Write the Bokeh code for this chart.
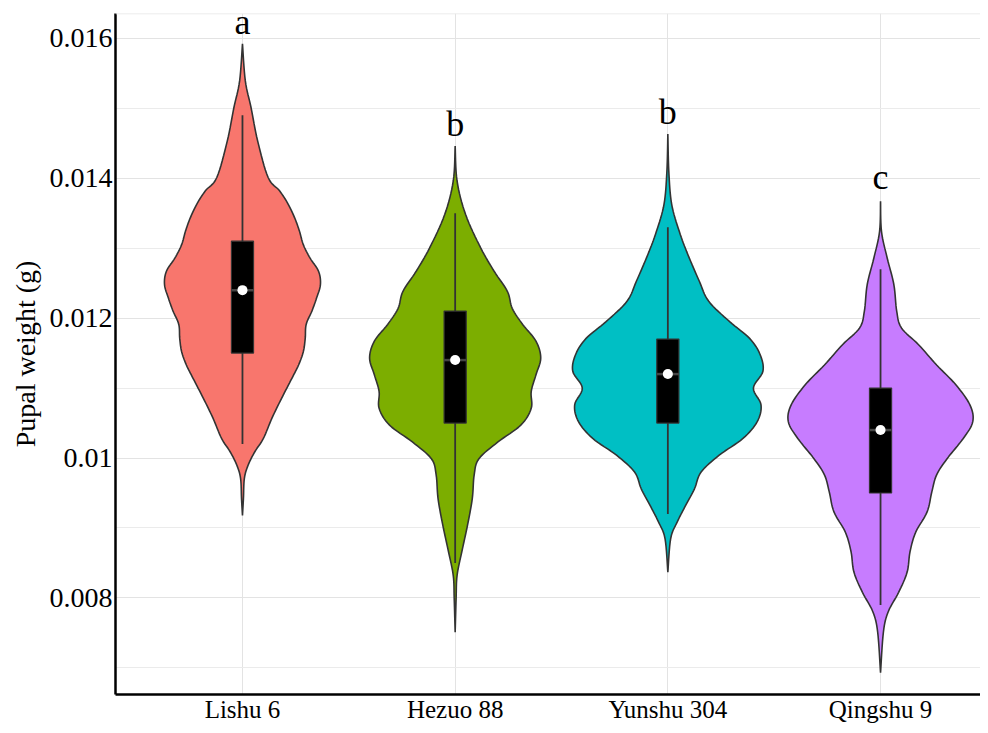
import numpy as np
from bokeh.plotting import figure
from bokeh.models import FixedTicker, CustomJSTickFormatter, Range1d, Span
from bokeh.core.properties import value
from bokeh.embed import file_html
from bokeh.resources import INLINE

categories = ["Lishu 6", "Hezuo 88", "Yunshu 304", "Qingshu 9"]
colors = ["#F8766D", "#7CAE00", "#00BFC4", "#C77CFF"]

# violin density profiles: weight (g) and relative half-width (1 = widest)
lishu_w = [0.01592, 0.01539, 0.01501, 0.01453, 0.01401, 0.01382, 0.01363, 0.01343, 0.01324, 0.01305,
           0.01286, 0.01267, 0.01248, 0.01229, 0.01210, 0.01191, 0.01171, 0.01152, 0.01133, 0.01114,
           0.01085, 0.01057, 0.01028, 0.01009, 0.00990, 0.00971, 0.00942, 0.00918]
lishu_d = [0, .03, .09, .16, .27, .39, .48, .55, .60, .64, .71, .80, .82, .78, .73, .67, .66, .64, .59, .52,
           .41, .31, .22, .13, .06, .02, .01, 0]
hezuo_w = [0.01446, 0.01396, 0.01348, 0.01300, 0.01267, 0.01238, 0.01214, 0.01191, 0.01167, 0.01143,
           0.01119, 0.01095, 0.01071, 0.01047, 0.01023, 0.00999, 0.00976, 0.00942, 0.00904, 0.00866,
           0.00832, 0.00799, 0.00751]
hezuo_d = [0, .02, .11, .27, .41, .55, .60, .71, .85, .90, .85, .80, .80, .69, .45, .25, .20, .18, .13, .07,
           .02, .01, 0]
yunshu_w = [0.01463, 0.01410, 0.01363, 0.01324, 0.01291, 0.01253, 0.01224, 0.01195, 0.01171, 0.01148,
            0.01124, 0.01100, 0.01076, 0.01052, 0.01028, 0.01004, 0.00980, 0.00956, 0.00933, 0.00909,
            0.00885, 0.00837]
yunshu_d = [0, .01, .04, .12, .21, .33, .43, .65, .86, .97, 1.0, .90, .98, .94, .79, .54, .35, .28, .19, .10,
            .03, 0]
qingshu_w = [0.01367, 0.01324, 0.01286, 0.01248, 0.01210, 0.01186, 0.01162, 0.01133, 0.01105, 0.01076,
             0.01052, 0.01028, 0.00999, 0.00976, 0.00952, 0.00923, 0.00894, 0.00866, 0.00837, 0.00808,
             0.00780, 0.00751, 0.00693]
qingshu_d = [0, .01, .07, .14, .17, .22, .40, .59, .79, .94, .97, .87, .70, .59, .54, .49, .37, .31, .28, .19,
             .08, .03, 0]

# box plot statistics
q1 = [0.0115, 0.0105, 0.0105, 0.0095]
q3 = [0.0131, 0.0121, 0.0117, 0.0110]
med = [0.0124, 0.0114, 0.0112, 0.0104]
whisker_lo = [0.0102, 0.0085, 0.0092, 0.0079]
whisker_hi = [0.0149, 0.0135, 0.0133, 0.0127]

# significance letters
letters = ["a", "b", "b", "c"]
letter_y = [0.01623, 0.01477, 0.01495, 0.01401]

y_ticks = [0.008, 0.010, 0.012, 0.014, 0.016]
y_minor = [0.007, 0.009, 0.011, 0.013, 0.015]

profiles = [(lishu_w, lishu_d), (hezuo_w, hezuo_d), (yunshu_w, yunshu_d), (qingshu_w, qingshu_d)]

HALF = 0.447   # half-width of the widest violin (category units)
BOX = 0.052    # half-width of box

def smooth(ys, ds, n=8):
    P = np.column_stack([ys, ds]).astype(float)
    P = np.vstack([P[0], P, P[-1]])
    out = []
    for i in range(1, len(P) - 2):
        p0, p1, p2, p3 = P[i - 1], P[i], P[i + 1], P[i + 2]
        for t in np.linspace(0, 1, n, endpoint=False):
            t2, t3 = t * t, t * t * t
            pt = 0.5 * ((2 * p1) + (-p0 + p2) * t + (2 * p0 - 5 * p1 + 4 * p2 - p3) * t2
                        + (-p0 + 3 * p1 - 3 * p2 + p3) * t3)
            out.append(pt)
    out.append(P[-2])
    out = np.array(out)
    out[:, 1] = np.clip(out[:, 1], 0, None)
    return out[:, 0], out[:, 1]

Y_TOP = 0.016354
p = figure(width=980, height=725, output_backend="svg", toolbar_location=None,
           x_range=Range1d(0.403, 4.470), y_range=Range1d(0.00662, Y_TOP),
           min_border_left=115, min_border_top=13, min_border_right=0, min_border_bottom=0)
p.background_fill_color = "white"
p.outline_line_color = None
p.add_layout(Span(location=Y_TOP, dimension="width", line_color="#E6E6E6", line_width=1.5))

p.xgrid.ticker = FixedTicker(ticks=[1, 2, 3, 4])
p.xgrid.grid_line_color = "#E3E3E3"
p.ygrid.ticker = FixedTicker(ticks=y_ticks, minor_ticks=y_minor)
p.ygrid.grid_line_color = "#E3E3E3"
p.ygrid.minor_grid_line_color = "#EBEBEB"

for i, (ws, ds) in enumerate(profiles):
    c = i + 1
    sy, sd = smooth(ws, ds)
    xs = list(c - sd * HALF) + list((c + sd * HALF)[::-1])
    ys = list(sy) + list(sy[::-1])
    p.patch(xs, ys, fill_color=colors[i], line_color="#333333", line_width=1.6)

xc = [1, 2, 3, 4]
p.segment(x0=xc, y0=whisker_lo, x1=xc, y1=whisker_hi, line_color="#333333", line_width=1.8)
p.quad(left=[c - BOX for c in xc], right=[c + BOX for c in xc], bottom=q1, top=q3,
       fill_color="black", line_color="#333333", line_width=1.2)
p.segment(x0=[c - BOX for c in xc], y0=med, x1=[c + BOX for c in xc], y1=med,
          line_color="#444444", line_width=2.5)
p.scatter(xc, med, size=10, fill_color="white", line_color=None)

p.text(x=xc, y=letter_y, text=letters, text_align="center", text_baseline="alphabetic",
       text_font=value("Liberation Serif"), text_font_size="36px", text_color="black")

# axes
p.xaxis.ticker = FixedTicker(ticks=[1, 2, 3, 4])
p.xaxis.major_label_overrides = {1: categories[0], 2: categories[1], 3: categories[2], 4: categories[3]}
p.yaxis.ticker = FixedTicker(ticks=y_ticks)
p.yaxis.formatter = CustomJSTickFormatter(code="return String(+tick.toFixed(3));")
for ax in (p.xaxis[0], p.yaxis[0]):
    ax.axis_line_color = "black"
    ax.axis_line_width = 2.5
    ax.major_tick_line_color = None
    ax.minor_tick_line_color = None
    ax.major_tick_out = 0
    ax.minor_tick_out = 0
    ax.major_label_text_font = "Liberation Serif"
    ax.major_label_text_color = "black"
p.xaxis.major_label_text_font_size = "25px"
p.xaxis.major_label_standoff = 1
p.yaxis.major_label_text_font_size = "28px"
p.yaxis.major_label_standoff = 3
p.yaxis.axis_label = "Pupal weight (g)"
p.yaxis.axis_label_text_font = "Liberation Serif"
p.yaxis.axis_label_text_font_size = "28px"
p.yaxis.axis_label_text_font_style = "normal"
p.yaxis.axis_label_text_color = "black"
p.yaxis.axis_label_standoff = 6

open("out.html", "w").write(file_html(p, INLINE))
